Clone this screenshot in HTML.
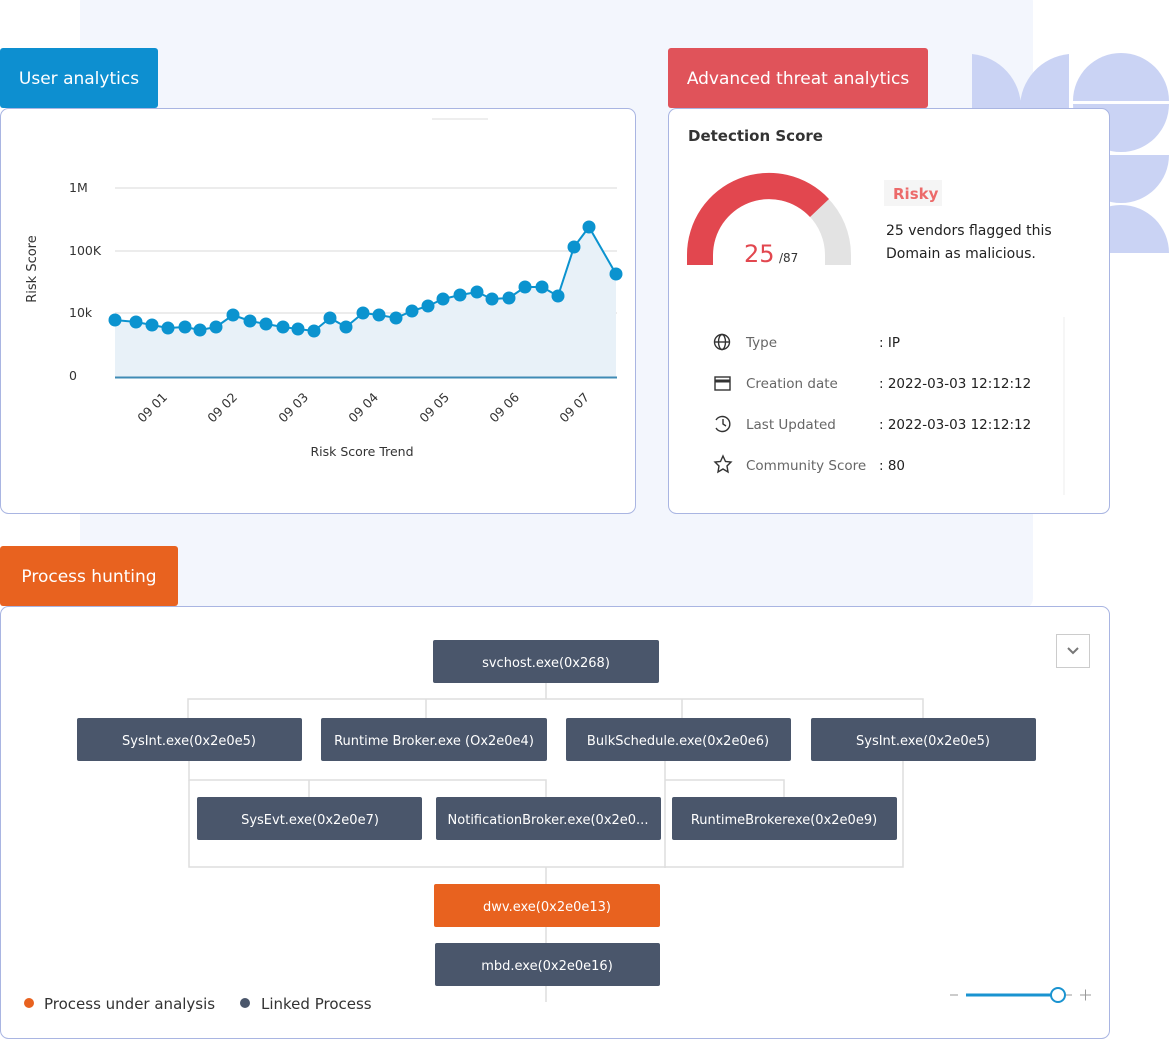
<!DOCTYPE html>
<html><head><meta charset="utf-8"><style>
html,body{margin:0;padding:0;background:#fff;width:1171px;height:1040px;overflow:hidden}
svg{display:block;font-family:"DejaVu Sans","Liberation Sans",sans-serif}
</style></head><body>
<svg width="1171" height="1040" viewBox="0 0 1171 1040" xmlns="http://www.w3.org/2000/svg">
<rect x="80" y="-10" width="953" height="620" rx="12" fill="#f3f6fd"/>
<g fill="#cad3f4">
<path d="M972 108 L972 54 A54 54 0 0 1 1021 108 Z"/>
<path d="M1069 108 L1069 54 A54 54 0 0 0 1020 108 Z"/>
<path d="M1073 101 A48 48 0 0 1 1169 101 Z"/>
<path d="M1073 104 A48 48 0 0 0 1169 104 Z"/>
<path d="M1073 155 A48 48 0 0 0 1169 155 Z"/>
<path d="M1073 253 A48 48 0 0 1 1169 253 Z"/>
</g>
<rect x="0.5" y="108.5" width="635" height="405" rx="8" fill="#fff" stroke="#a9b5e2"/>
<rect x="668.5" y="108.5" width="441" height="405" rx="8" fill="#fff" stroke="#a9b5e2"/>
<rect x="0.5" y="606.5" width="1109" height="432" rx="8" fill="#fff" stroke="#a9b5e2"/>
<rect x="0" y="48" width="158" height="60" rx="3" fill="#0d8fd0"/>
<text x="79" y="84" font-size="17" fill="#fff" text-anchor="middle">User analytics</text>
<rect x="668" y="48" width="260" height="60" rx="3" fill="#e0535a"/>
<text x="798" y="84" font-size="17" fill="#fff" text-anchor="middle">Advanced threat analytics</text>
<rect x="0" y="546" width="178" height="60" rx="3" fill="#e8621f"/>
<text x="89" y="582" font-size="17" fill="#fff" text-anchor="middle">Process hunting</text>

<line x1="432" y1="119" x2="488" y2="119" stroke="#eee" stroke-width="2"/>
<g stroke="#e6e6e6" stroke-width="1.5">
<line x1="115" y1="188" x2="617" y2="188"/>
<line x1="115" y1="251" x2="617" y2="251"/>
<line x1="115" y1="313" x2="617" y2="313"/>
</g>
<g font-size="12.5" fill="#333">
<text x="69" y="192">1M</text><text x="69" y="255">100K</text><text x="69" y="317">10k</text><text x="69" y="380">0</text>
<text transform="translate(36,269) rotate(-90)" text-anchor="middle" font-size="13">Risk Score</text>
<text x="362" y="456" text-anchor="middle">Risk Score Trend</text>
</g>
<g font-size="12.5" fill="#333" text-anchor="end">
<text transform="translate(168,398) rotate(-45)">09 01</text>
<text transform="translate(238,398) rotate(-45)">09 02</text>
<text transform="translate(309,398) rotate(-45)">09 03</text>
<text transform="translate(379,398) rotate(-45)">09 04</text>
<text transform="translate(450,398) rotate(-45)">09 05</text>
<text transform="translate(520,398) rotate(-45)">09 06</text>
<text transform="translate(590,398) rotate(-45)">09 07</text>
</g>
<path d="M115 320 L136 322 L152 325 L168 328 L185 327 L200 330 L216 327 L233 315 L250 321 L266 324 L283 327 L298 329 L314 331 L330 318 L346 327 L363 313 L379 315 L396 318 L412 311 L428 306 L443 299 L460 295 L477 292 L492 299 L509 298 L525 287 L542 287 L558 296 L574 247 L589 227 L616 274 L616 377 L115 377 Z" fill="#e8f1f8"/>
<line x1="115" y1="377.5" x2="617" y2="377.5" stroke="#3f8bb5" stroke-width="2"/>
<polyline fill="none" stroke="#0b93cf" stroke-width="2" points="115,320 136,322 152,325 168,328 185,327 200,330 216,327 233,315 250,321 266,324 283,327 298,329 314,331 330,318 346,327 363,313 379,315 396,318 412,311 428,306 443,299 460,295 477,292 492,299 509,298 525,287 542,287 558,296 574,247 589,227 616,274"/>
<g fill="#0b93cf">
<circle cx="115" cy="320" r="6.5"/><circle cx="136" cy="322" r="6.5"/><circle cx="152" cy="325" r="6.5"/><circle cx="168" cy="328" r="6.5"/><circle cx="185" cy="327" r="6.5"/><circle cx="200" cy="330" r="6.5"/><circle cx="216" cy="327" r="6.5"/><circle cx="233" cy="315" r="6.5"/><circle cx="250" cy="321" r="6.5"/><circle cx="266" cy="324" r="6.5"/><circle cx="283" cy="327" r="6.5"/><circle cx="298" cy="329" r="6.5"/><circle cx="314" cy="331" r="6.5"/><circle cx="330" cy="318" r="6.5"/><circle cx="346" cy="327" r="6.5"/><circle cx="363" cy="313" r="6.5"/><circle cx="379" cy="315" r="6.5"/><circle cx="396" cy="318" r="6.5"/><circle cx="412" cy="311" r="6.5"/><circle cx="428" cy="306" r="6.5"/><circle cx="443" cy="299" r="6.5"/><circle cx="460" cy="295" r="6.5"/><circle cx="477" cy="292" r="6.5"/><circle cx="492" cy="299" r="6.5"/><circle cx="509" cy="298" r="6.5"/><circle cx="525" cy="287" r="6.5"/><circle cx="542" cy="287" r="6.5"/><circle cx="558" cy="296" r="6.5"/><circle cx="574" cy="247" r="6.5"/><circle cx="589" cy="227" r="6.5"/><circle cx="616" cy="274" r="6.5"/>
</g>

<text x="688" y="141" font-size="15" font-weight="bold" fill="#333">Detection Score</text>
<path d="M687 265 V255 A82 82 0 0 1 851 255 V265 H825 V255 A56 56 0 0 0 713 255 V265 Z" fill="#e3e3e3"/>
<path d="M687 265 V255 A82 82 0 0 1 829 199 L810 217 A56 56 0 0 0 713 255 V265 Z" fill="#e2474f"/>
<text x="744" y="262" font-size="24" fill="#e2474f">25</text>
<text x="779" y="262" font-size="12" fill="#333">/87</text>
<rect x="884" y="180" width="58" height="26" fill="#f5f5f5"/>
<text x="893" y="199" font-size="15" font-weight="bold" fill="#ec6a6a">Risky</text>
<text x="886" y="235" font-size="14" fill="#222">25 vendors flagged this</text>
<text x="886" y="258" font-size="14" fill="#222">Domain as malicious.</text>
<line x1="1064" y1="317" x2="1064" y2="495" stroke="#eee"/>
<g font-size="13.5" fill="#666">
<text x="746" y="347">Type</text><text x="746" y="388">Creation date</text><text x="746" y="429">Last Updated</text><text x="746" y="470">Community Score</text>
</g>
<g font-size="13.5" fill="#222">
<text x="879" y="347">:  IP</text><text x="879" y="388">:  2022-03-03 12:12:12</text><text x="879" y="429">:  2022-03-03 12:12:12</text><text x="879" y="470">:  80</text>
</g>
<g fill="none" stroke="#333" stroke-width="1.4">
<circle cx="722" cy="342" r="7.5"/><ellipse cx="722" cy="342" rx="3.5" ry="7.5"/><line x1="714.5" y1="342" x2="729.5" y2="342"/>
<rect x="715" y="377" width="15" height="13"/><line x1="715" y1="381" x2="730" y2="381" stroke-width="3"/>
<path d="M716 420 A7.5 7.5 0 1 1 716 428"/><polyline points="723,419 723,424 726,426"/>
<path d="M723 456 L725.5 461.5 L731 462 L727 466 L728 472 L723 469 L718 472 L719 466 L715 462 L720.5 461.5 Z"/>
</g>

<g fill="none" stroke="#dedede" stroke-width="1.5">
<path d="M546 683 V699 M188 718 V699 H923 V718 M426 699 V718 M682 699 V718"/>
<path d="M189 761 V780 H546 V797 M309 780 V797"/>
<path d="M665 761 V868 M665 780 H784 V797"/>
<path d="M189 780 V867 H903 V761 M546 867 V884 M546 927 V943 M546 986 V1002"/>
</g>
<g font-size="13" fill="#fff" text-anchor="middle">
<rect x="433" y="640" width="226" height="43" rx="2" fill="#4a566b"/><text x="546" y="667">svchost.exe(0x268)</text>
<rect x="77" y="718" width="225" height="43" rx="2" fill="#4a566b"/><text x="189" y="745">SysInt.exe(0x2e0e5)</text>
<rect x="321" y="718" width="226" height="43" rx="2" fill="#4a566b"/><text x="434" y="745">Runtime Broker.exe (Ox2e0e4)</text>
<rect x="566" y="718" width="225" height="43" rx="2" fill="#4a566b"/><text x="678" y="745">BulkSchedule.exe(0x2e0e6)</text>
<rect x="811" y="718" width="225" height="43" rx="2" fill="#4a566b"/><text x="923" y="745">SysInt.exe(0x2e0e5)</text>
<rect x="197" y="797" width="225" height="43" rx="2" fill="#4a566b"/><text x="310" y="824">SysEvt.exe(0x2e0e7)</text>
<rect x="436" y="797" width="225" height="43" rx="2" fill="#4a566b"/><text x="548" y="824">NotificationBroker.exe(0x2e0...</text>
<rect x="672" y="797" width="225" height="43" rx="2" fill="#4a566b"/><text x="784" y="824">RuntimeBrokerexe(0x2e0e9)</text>
<rect x="434" y="884" width="226" height="43" rx="2" fill="#e8621f"/><text x="547" y="911">dwv.exe(0x2e0e13)</text>
<rect x="435" y="943" width="225" height="43" rx="2" fill="#4a566b"/><text x="547" y="970">mbd.exe(0x2e0e16)</text>
</g>
<rect x="1056.5" y="634.5" width="33" height="33" fill="#fff" stroke="#ccc"/>
<polyline points="1068,648 1073,653 1078,648" fill="none" stroke="#777" stroke-width="2"/>
<circle cx="29" cy="1003" r="5" fill="#e8621f"/>
<text x="44" y="1009" font-size="15" fill="#333">Process under analysis</text>
<circle cx="245" cy="1003" r="5" fill="#4a566b"/>
<text x="261" y="1009" font-size="15" fill="#333">Linked Process</text>
<line x1="950" y1="995" x2="958" y2="995" stroke="#999"/>
<line x1="966" y1="995" x2="1052" y2="995" stroke="#1a93d0" stroke-width="3"/>
<circle cx="1058" cy="995" r="7" fill="#fff" stroke="#1a93d0" stroke-width="2"/>
<line x1="1066" y1="995" x2="1072" y2="995" stroke="#999"/>
<path d="M1080 995 H1091 M1085.5 989.5 V1000.5" stroke="#999"/>
</svg>
</body></html>
